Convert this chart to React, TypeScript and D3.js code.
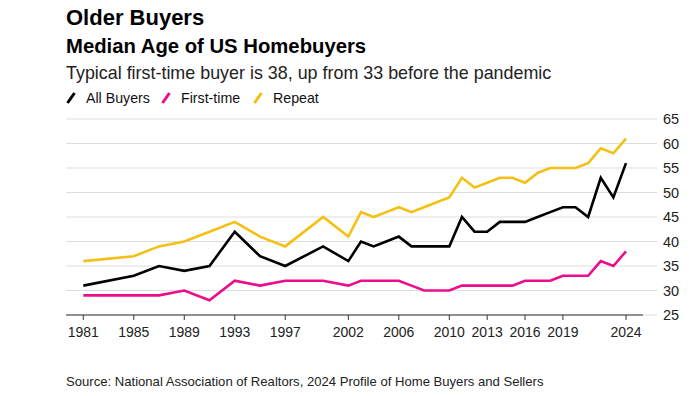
import React from "react";
import * as d3 from "d3";

const WIDTH = 693;
const HEIGHT = 396;
const FONT = "'Liberation Sans', Arial, sans-serif";

// survey years and median ages
const years = [
  1981, 1985, 1987, 1989, 1991, 1993, 1995, 1997, 2000, 2002, 2003, 2004, 2005,
  2006, 2007, 2008, 2009, 2010, 2011, 2012, 2013, 2014, 2015, 2016, 2017, 2018,
  2019, 2020, 2021, 2022, 2023, 2024,
];
const allBuyers = [
  31, 33, 35, 34, 35, 42, 37, 35, 39, 36, 40, 39, 40, 41, 39, 39, 39, 39, 45, 42,
  42, 44, 44, 44, 45, 46, 47, 47, 45, 53, 49, 56,
];
const firstTime = [
  29, 29, 29, 30, 28, 32, 31, 32, 32, 31, 32, 32, 32, 32, 31, 30, 30, 30, 31, 31,
  31, 31, 31, 32, 32, 32, 33, 33, 33, 36, 35, 38,
];
const repeat = [
  36, 37, 39, 40, 42, 44, 41, 39, 45, 41, 46, 45, 46, 47, 46, 47, 48, 49, 53, 51,
  52, 53, 53, 52, 54, 55, 55, 55, 56, 59, 58, 61,
];

const xTicks = [1981, 1985, 1989, 1993, 1997, 2002, 2006, 2010, 2013, 2016, 2019, 2024];
const yTicks = [25, 30, 35, 40, 45, 50, 55, 60, 65];

const series = [
  { name: "All Buyers", color: "#000000", values: allBuyers },
  { name: "First-time", color: "#ec0c8c", values: firstTime },
  { name: "Repeat", color: "#f5c013", values: repeat },
];

const PLOT = { left: 66, right: 643, gridEnd: 657, top: 119, bottom: 315 };

export default function App() {
  const xScale = d3.scaleLinear().domain([1981, 2024]).range([83.3, 626]);
  const yScale = d3.scaleLinear().domain([25, 65]).range([PLOT.bottom, PLOT.top]);

  const line = d3
    .line<number>()
    .x((_, i) => xScale(years[i]))
    .y((d) => yScale(d));

  // legend entries laid out left to right
  const legendX = [66, 161, 253];

  return (
    <svg
      width={WIDTH}
      height={HEIGHT}
      style={{ position: "absolute", left: 0, top: 0, background: "#fff" }}
      fontFamily={FONT}
    >
      {/* titles */}
      <text x={66} y={25} fontSize={22} fontWeight="bold" fill="#000">
        Older Buyers
      </text>
      <text x={66} y={53} fontSize={20.3} fontWeight="bold" fill="#000">
        Median Age of US Homebuyers
      </text>
      <text x={66} y={79} fontSize={17.9} fill="#222">
        Typical first-time buyer is 38, up from 33 before the pandemic
      </text>

      {/* legend */}
      {series.map((s, i) => (
        <g key={s.name} transform={`translate(${legendX[i]},0)`}>
          <line x1={1.5} y1={103} x2={8.5} y2={93} stroke={s.color} strokeWidth={3} />
          <text x={20} y={103} fontSize={14.2} fill="#111">
            {s.name}
          </text>
        </g>
      ))}

      {/* grid */}
      {yTicks.map((t) => (
        <g key={t}>
          <line
            x1={PLOT.left}
            x2={PLOT.gridEnd}
            y1={yScale(t)}
            y2={yScale(t)}
            stroke="#dddddd"
            strokeWidth={1}
          />
          <text x={663} y={yScale(t) + 5} fontSize={14.5} fill="#222">
            {t}
          </text>
        </g>
      ))}

      {/* x axis */}
      <line
        x1={PLOT.left}
        x2={PLOT.right}
        y1={PLOT.bottom}
        y2={PLOT.bottom}
        stroke="#333"
        strokeWidth={1.2}
      />
      {xTicks.map((t) => (
        <g key={t}>
          <line
            x1={xScale(t)}
            x2={xScale(t)}
            y1={PLOT.bottom}
            y2={PLOT.bottom + 5}
            stroke="#333"
            strokeWidth={1}
          />
          <text x={xScale(t)} y={337} fontSize={14} textAnchor="middle" fill="#222">
            {t}
          </text>
        </g>
      ))}

      {/* lines */}
      {series
        .slice()
        .reverse()
        .map((s) => (
          <path
            key={s.name}
            d={line(s.values) || ""}
            fill="none"
            stroke={s.color}
            strokeWidth={2.6}
          />
        ))}

      <text x={66} y={386} fontSize={13.1} fill="#222">
        Source: National Association of Realtors, 2024 Profile of Home Buyers and Sellers
      </text>
    </svg>
  );
}
